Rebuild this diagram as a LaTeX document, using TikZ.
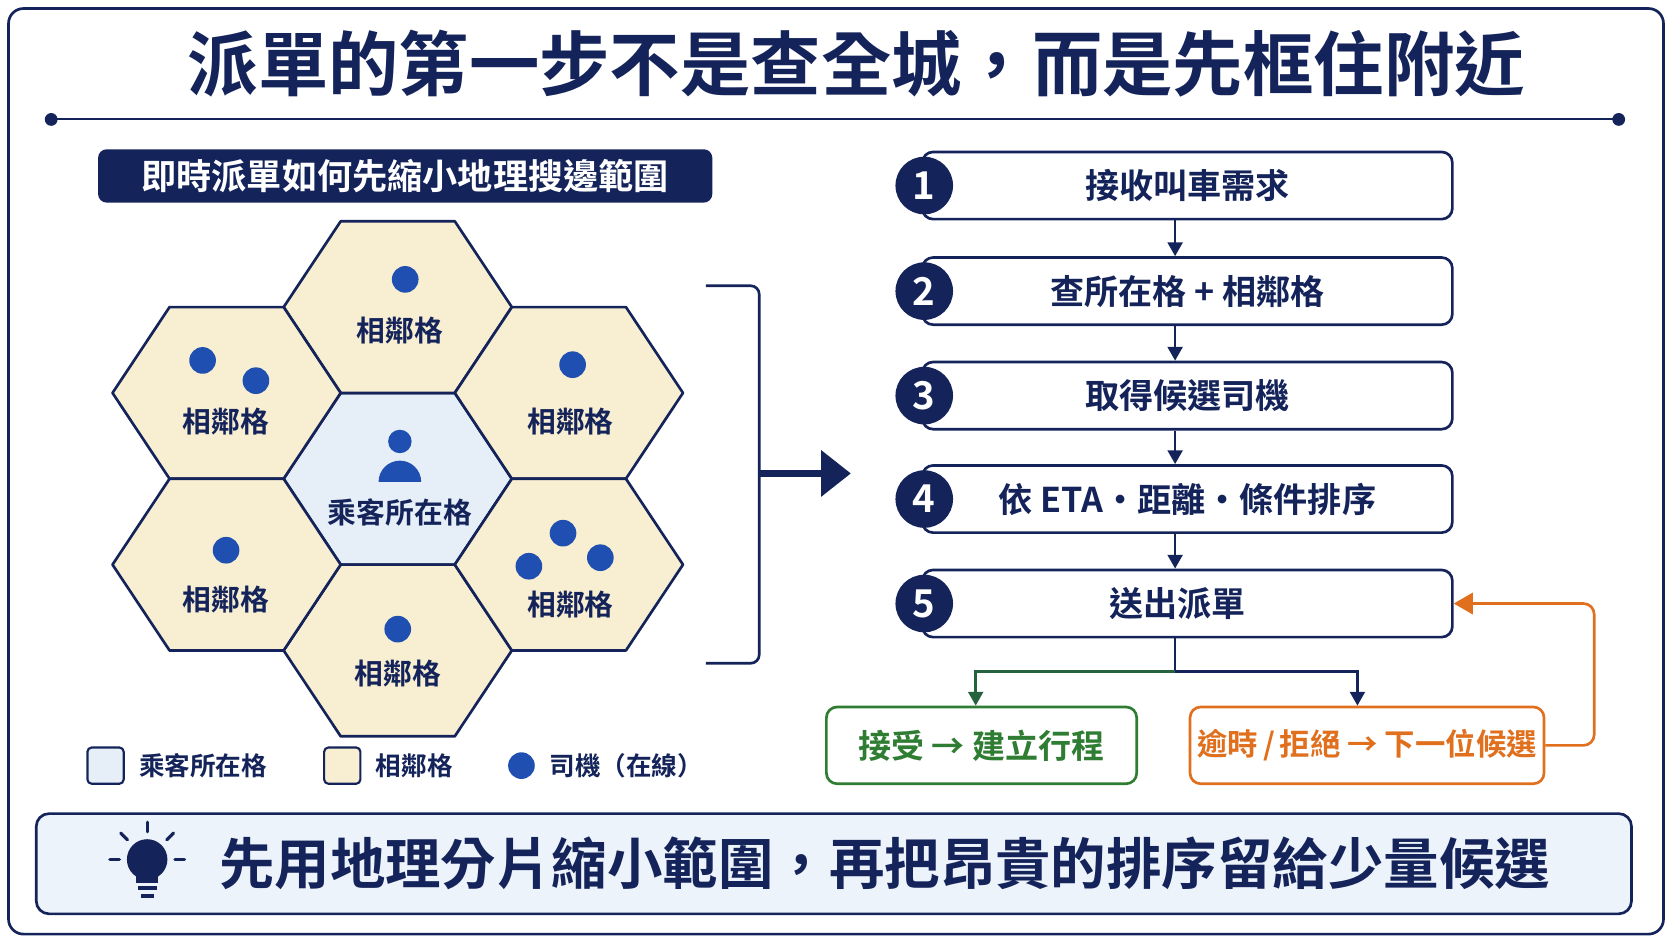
\documentclass[tikz,border=0pt]{standalone}
\usepackage{fontspec}
\setmainfont{Noto Sans CJK TC}[BoldFont={Noto Sans CJK TC Bold}]
\usetikzlibrary{arrows.meta,positioning}
\definecolor{navy}{HTML}{14245A}
\definecolor{dotblue}{HTML}{1F4FB0}
\definecolor{beige}{HTML}{F8EFD2}
\definecolor{paleblue}{HTML}{E6EEF8}
\definecolor{okgreen}{HTML}{2E7D32}
\definecolor{warnorange}{HTML}{E0701E}
\tikzset{
  hexcell/.style={draw=navy, line width=2.5pt, line join=round},
  driver/.style={circle, fill=dotblue, inner sep=0pt, minimum size=25pt},
  cellname/.style={font=\bfseries\fontsize{27}{32}\selectfont, text=navy},
  stepbox/.style={draw=navy, line width=2.5pt, rounded corners=10pt, fill=white,
    minimum width=497pt, minimum height=63pt, font=\bfseries\fontsize{32}{38}\selectfont, text=navy},
  stepnum/.style={circle, fill=navy, minimum size=54pt, inner sep=0pt, text=white,
    font=\bfseries\fontsize{36}{40}\selectfont},
  flow/.style={navy, line width=2.5pt, -{Triangle[length=13pt,width=14pt]}},
  outcome/.style={line width=2.5pt, rounded corners=10pt, fill=white,
    minimum width=291pt, minimum height=72pt, font=\bfseries\fontsize{31}{36}\selectfont},
  legendbox/.style={draw=navy, line width=2pt, rounded corners=4pt, minimum size=34pt, inner sep=0pt},
  legendtext/.style={font=\bfseries\fontsize{24}{28}\selectfont, text=navy, anchor=west}
}
% one hexagon cell at #1 with fill #2
\newcommand{\hexat}[2]{%
  \draw[hexcell, fill=#2] (#1) ++(-107,0) -- ++(53.5,-80.5) -- ++(107,0)
    -- ++(53.5,80.5) -- ++(-53.5,80.5) -- ++(-107,0) -- cycle;}
\begin{document}
\begin{tikzpicture}[x=1pt, y=-1pt]
  \useasboundingbox (0,0) rectangle (1568,882);
  % outer frame
  \draw[navy, line width=2.5pt, rounded corners=14pt] (8,8) rectangle (1560,876);
  % title
  \node[font=\bfseries\fontsize{66}{74}\selectfont, text=navy] (title) at (803,60)
    {派單的第一步不是查全城，而是先框住附近};
  \coordinate (ruleL) at (48,112);
  \coordinate (ruleR) at (1518,112);
  \draw[navy, line width=2pt] (ruleL) -- (ruleR);
  \fill[navy] (ruleL) circle (6) (ruleR) circle (6);

  % left header
  \node[fill=navy, rounded corners=8pt, minimum width=576pt, minimum height=50pt,
    text=white, font=\bfseries\fontsize{33}{38}\selectfont] (mapHead) at (380,165)
    {即時派單如何先縮小地理搜邊範圍};

  % hexagon cells
  \coordinate (cC) at (373,449);
  \coordinate (cN) at (373,288);
  \coordinate (cS) at (373,610);
  \coordinate (cNW) at (212.5,368.5);
  \coordinate (cNE) at (533.5,368.5);
  \coordinate (cSW) at (212.5,529.5);
  \coordinate (cSE) at (533.5,529.5);
  \hexat{cC}{paleblue}
  \foreach \c in {cN,cS,cNW,cNE,cSW,cSE} {\hexat{\c}{beige}}
  \node[cellname] (lblN) at (375,310) {相鄰格};
  \node[cellname] (lblNW) at (212,395) {相鄰格};
  \node[cellname] (lblNE) at (535,395) {相鄰格};
  \node[cellname] (lblSW) at (212,562) {相鄰格};
  \node[cellname] (lblSE) at (535,567) {相鄰格};
  \node[cellname] (lblS) at (373,632) {相鄰格};
  \node[cellname] (lblC) at (375,481) {乘客所在格};
  % drivers
  \foreach \p in {(380,262),(190,338),(240,357),(537,342),(212,516),
                  (528,500),(496,531),(563,523),(373,590)}
    \node[driver] at \p {};
  % passenger icon
  \fill[dotblue] (375,414) circle (11);
  \fill[dotblue] (355,452) arc[start angle=180, end angle=360, radius=20] -- cycle;

  % legend
  \node[legendbox, fill=paleblue] (keyPass) at (99,718) {};
  \node[legendtext, right=10pt of keyPass] {乘客所在格};
  \node[legendbox, fill=beige] (keyNear) at (321,718) {};
  \node[legendtext, right=10pt of keyNear] {相鄰格};
  \node[driver] (keyDrv) at (489,718) {};
  \node[legendtext, right=10pt of keyDrv] {司機（在線）};

  % bracket and big arrow
  \draw[navy, line width=2.5pt, rounded corners=8pt] (662,268) -- (712,268) -- (712,622) -- (662,622);
  \coordinate (bigFrom) at (712,444);
  \coordinate (bigTo) at (798,444);
  \draw[navy, line width=7pt, -{Triangle[length=28pt,width=42pt]}] (bigFrom) -- (bigTo);

  % steps
  \node[stepbox] (s1) at (1113.5,174) {接收叫車需求};
  \node[stepbox] (s2) at (1113.5,273) {查所在格 + 相鄰格};
  \node[stepbox] (s3) at (1113.5,371) {取得候選司機};
  \node[stepbox] (s4) at (1113.5,468) {依 ETA・距離・條件排序};
  \node[stepbox, text width=470pt, align=left] (s5) at (1113.5,566)
    {\hspace*{162pt}送出派單};
  \foreach \i in {1,...,5}
    \node[stepnum] (n\i) at ([xshift=3pt]s\i.west) {\i};
  \foreach \i [evaluate=\i as \j using int(\i+1)] in {1,...,4}
    \draw[flow] (s\i.south -| 1102,0) -- (s\j.north -| 1102,0);

  % outcomes
  \node[outcome, draw=okgreen, text=okgreen] (accept) at (920.5,699) {接受 → 建立行程};
  \node[outcome, draw=warnorange, text=warnorange, minimum width=332pt, inner xsep=4pt,
    font=\bfseries\fontsize{28.5}{34}\selectfont] (reject) at (1282,699)
    {逾時\,/\,拒絕 → 下一位候選};
  \coordinate (split) at (1102,630);
  \draw[navy, line width=2.5pt] (s5.south -| split) -- (split);
  \draw[flow, okgreen!70!navy] (split) -| (accept.north -| 915,0);
  \draw[flow] (split) -| (reject.north -| 1273,0);
  \draw[warnorange, line width=2.5pt, rounded corners=10pt, -{Triangle[length=18pt,width=20pt]}]
    (reject.east) -- (1495,699) -- (1495,566) -- (s5.east);

  % bottom banner
  \node[draw=navy, line width=2.5pt, rounded corners=12pt, fill=paleblue!70,
    minimum width=1496pt, minimum height=94pt] (banner) at (782,810) {};
  \node[font=\bfseries\fontsize{52}{60}\selectfont, text=navy, anchor=west] (takeaway) at (202,810)
    {先用地理分片縮小範圍，再把昂貴的排序留給少量候選};
  % bulb
  \fill[navy] (138,806) circle (19);
  \fill[navy] (128,812) rectangle (148,828);
  \fill[navy] (129,831) rectangle (147,835);
  \fill[navy] (132,838) rectangle (144,842);
  \foreach \a in {0,-45,-90,-135,180} \draw[navy, line width=3pt, line cap=round]
    (138,806) ++(\a:26) -- ++(\a:9);
\end{tikzpicture}
\end{document}
